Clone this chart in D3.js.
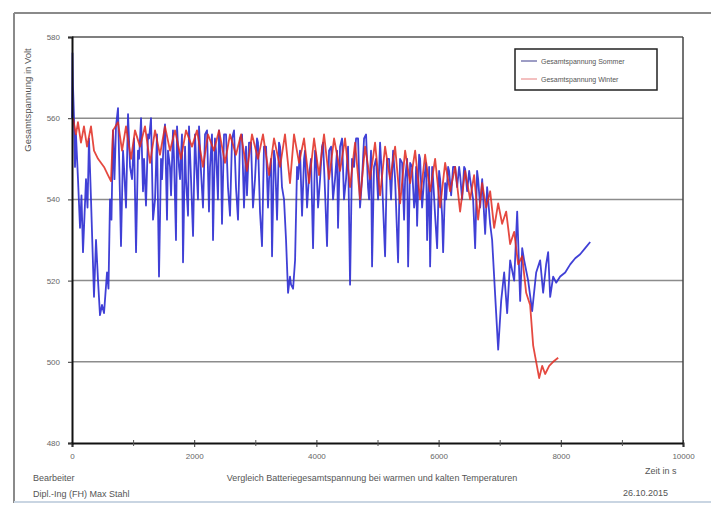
<!DOCTYPE html>
<html>
<head>
<meta charset="utf-8">
<script src="https://cdn.jsdelivr.net/npm/d3@7"></script>
<style>
  body { margin: 0; background: #fff; }
  svg { display: block; font-family: "Liberation Sans", Arial, sans-serif; }
</style>
</head>
<body>
<div id="container"></div>
<script>
// chart size
const width = 711;
const height = 505;

// tick values
const xTicks = [0, 2000, 4000, 6000, 8000, 10000];
const xMinorTicks = [1000, 3000, 5000, 7000, 9000];
const yTicks = [480, 500, 520, 540, 560, 580];
const gridValues = [500, 520, 540, 560];

// series names (legend)
const seriesNames = ["Gesamtspannung Sommer", "Gesamtspannung Winter"];

// Sommer: [Zeit in s, Spannung in V]
const sommerDaten = [
  [0, 560], [8, 576], [16, 568], [33, 560], [49, 548], [65, 556], [98, 545], [131, 533], [155, 541],
  [180, 527], [229, 545], [254, 538], [278, 555], [311, 540], [360, 516], [393, 530], [426, 520],
  [458, 511.5], [491, 514], [524, 512], [573, 522], [597, 518], [622, 540], [646, 535], [671, 557],
  [695, 545], [720, 558], [753, 562.5],
  [786, 540], [802, 528.5], [835, 552], [851, 548], [884, 538], [917, 561], [950, 548], [982, 545],
  [1015, 555], [1048, 527], [1080, 552], [1097, 550], [1130, 560], [1162, 542], [1179, 550],
  [1211, 538.5], [1244, 556], [1261, 555], [1293, 560],
  [1326, 535], [1359, 540], [1391, 556], [1424, 521], [1457, 550], [1473, 545], [1506, 556],
  [1522, 558.5], [1555, 535], [1571, 552], [1604, 548], [1621, 541], [1653, 557], [1670, 550],
  [1702, 530], [1719, 558], [1751, 548], [1768, 545], [1800, 556], [1817, 524.5], [1850, 553],
  [1866, 545], [1899, 536], [1915, 558], [1948, 545], [1981, 531], [2013, 556], [2030, 550],
  [2062, 540], [2079, 558], [2111, 547], [2144, 538], [2177, 556], [2210, 557], [2242, 537],
  [2259, 548], [2291, 556], [2308, 530], [2340, 555], [2357, 552], [2389, 540], [2406, 557],
  [2438, 550], [2455, 534], [2488, 556], [2521, 556], [2553, 543], [2586, 536], [2619, 555],
  [2652, 557], [2684, 543], [2717, 535], [2750, 555], [2783, 556], [2815, 538], [2848, 553],
  [2864, 541], [2897, 554], [2930, 554], [2962, 538], [2995, 545],
  [3028, 555], [3044, 554], [3077, 537], [3110, 528.5], [3142, 553], [3176, 553], [3208, 538],
  [3225, 545], [3257, 550], [3274, 526], [3306, 552], [3323, 550], [3356, 535], [3388, 554],
  [3405, 553], [3437, 543], [3470, 540], [3503, 530], [3536, 517], [3568, 521], [3585, 519],
  [3618, 518], [3651, 525], [3683, 548], [3700, 545], [3732, 552], [3765, 536], [3798, 550],
  [3814, 552], [3847, 538], [3880, 546], [3912, 550], [3945, 528], [3978, 552], [3994, 551],
  [4027, 538], [4060, 545], [4092, 553], [4109, 554], [4141, 542], [4174, 528.5], [4207, 552],
  [4240, 553], [4272, 540], [4305, 545], [4338, 552], [4354, 533], [4387, 553], [4420, 555],
  [4452, 540], [4485, 545], [4518, 553], [4551, 519], [4583, 550], [4616, 548], [4649, 555],
  [4682, 555], [4714, 538], [4747, 545], [4780, 555], [4813, 556], [4845, 543], [4862, 540],
  [4894, 552], [4911, 523.5], [4943, 548], [4976, 550],
  [5009, 540], [5042, 554], [5074, 545], [5124, 526], [5156, 550], [5189, 550], [5222, 540],
  [5255, 552], [5288, 545], [5337, 524.5], [5369, 550], [5403, 549], [5435, 535], [5452, 545],
  [5485, 550], [5501, 523.5], [5534, 549], [5566, 548], [5599, 538], [5616, 540], [5632, 548],
  [5648, 533.5], [5681, 551], [5697, 550], [5730, 538], [5763, 545], [5796, 549], [5812, 530],
  [5845, 548], [5861, 523.5], [5894, 548], [5910, 545], [5943, 536], [5976, 528], [6008, 547],
  [6025, 545], [6057, 536], [6074, 527], [6107, 544], [6123, 540], [6156, 548], [6172, 547],
  [6205, 541], [6237, 548], [6270, 548], [6303, 543], [6336, 548], [6352, 546], [6385, 540],
  [6418, 548], [6434, 547.5], [6467, 542], [6500, 547], [6516, 545], [6565, 540], [6598, 528],
  [6630, 547], [6647, 545], [6680, 538], [6713, 545], [6762, 531.5], [6794, 543], [6811, 540],
  [6843, 534], [6876, 530], [6942, 512], [6975, 503],
  [7024, 515], [7073, 522], [7122, 512], [7171, 525], [7237, 520], [7286, 537], [7335, 515],
  [7368, 528], [7400, 525], [7466, 520], [7531, 512.5], [7597, 522], [7662, 525], [7711, 517],
  [7760, 524], [7793, 527], [7826, 516], [7875, 521], [7924, 519.5], [7990, 521], [8072, 522],
  [8154, 524], [8236, 525.5], [8317, 526.5], [8399, 528], [8481, 529.5]
];

// Winter: [Zeit in s, Spannung in V]
const winterDaten = [
  [16, 560], [65, 556], [98, 559], [147, 554], [196, 558], [246, 553], [311, 558], [360, 552],
  [426, 550], [524, 548], [589, 546], [638, 544.5], [671, 557], [753, 559], [819, 552], [884, 558],
  [966, 550], [1031, 557], [1113, 553], [1195, 558], [1277, 549], [1359, 557], [1440, 551],
  [1522, 558], [1604, 552], [1686, 557], [1784, 550], [1866, 557], [1964, 553], [2046, 557],
  [2144, 548], [2226, 556], [2324, 552], [2406, 557], [2504, 549], [2586, 556], [2684, 551],
  [2766, 556], [2864, 547], [2946, 556], [3044, 550], [3126, 556], [3225, 546], [3306, 555],
  [3405, 548], [3486, 556], [3568, 544], [3634, 556], [3716, 549], [3798, 555], [3880, 544],
  [3962, 555], [4043, 546], [4125, 556], [4207, 545], [4289, 555], [4387, 547], [4469, 555],
  [4551, 543], [4633, 554], [4715, 540], [4797, 553], [4878, 545], [4960, 554], [5042, 541],
  [5124, 553], [5206, 545], [5288, 553], [5370, 539], [5452, 552], [5534, 544], [5616, 552],
  [5697, 540], [5779, 551], [5861, 542], [5943, 550], [6025, 538], [6107, 549], [6189, 542],
  [6271, 548], [6352, 537], [6434, 547], [6516, 540], [6581, 546], [6647, 535], [6713, 544],
  [6778, 538], [6844, 542], [6909, 533], [6975, 539], [7040, 534], [7106, 537], [7171, 529],
  [7237, 532], [7302, 524], [7368, 526], [7433, 517], [7498, 514], [7548, 504], [7597, 500],
  [7646, 496], [7695, 499], [7744, 497], [7810, 499], [7875, 500], [7957, 501]
];

const seriesColors = ["#2b2bd2", "#e0291f"];

const svg = d3.select("#container")
    .append("svg")
    .attr("width", width)
    .attr("height", height);

// outer frame
svg.append("line").attr("x1", 14).attr("x2", 711).attr("y1", 13).attr("y2", 13)
    .attr("stroke", "#8a8a8a").attr("stroke-width", 2);
svg.append("line").attr("x1", 14).attr("x2", 14).attr("y1", 13).attr("y2", 503)
    .attr("stroke", "#8a8a8a").attr("stroke-width", 2);
svg.append("line").attr("x1", 14).attr("x2", 711).attr("y1", 502).attr("y2", 502)
    .attr("stroke", "#c9d5e2").attr("stroke-width", 2);

// scales
const xScale = d3.scaleLinear().domain([0, 10000]).range([72, 683]);
const yScale = d3.scaleLinear().domain([480, 580]).range([443, 37]);

// grid lines
svg.selectAll("line.grid")
    .data(gridValues)
    .enter()
    .append("line")
    .attr("class", "grid")
    .attr("x1", xScale(0))
    .attr("x2", xScale(10000))
    .attr("y1", d => yScale(d))
    .attr("y2", d => yScale(d))
    .attr("stroke", "#8c8c8c")
    .attr("stroke-width", 1.5);

// plot frame top + right
svg.append("line").attr("x1", xScale(0)).attr("x2", xScale(10000))
    .attr("y1", yScale(580)).attr("y2", yScale(580))
    .attr("stroke", "#555").attr("stroke-width", 1.5);
svg.append("line").attr("x1", xScale(10000)).attr("x2", xScale(10000))
    .attr("y1", yScale(580)).attr("y2", yScale(480))
    .attr("stroke", "#444").attr("stroke-width", 1.5);

// series
const line = d3.line()
    .x(d => xScale(d[0]))
    .y(d => yScale(d[1]));

svg.append("path")
    .datum(sommerDaten)
    .attr("fill", "none")
    .attr("stroke", seriesColors[0])
    .attr("stroke-width", 1.8)
    .attr("stroke-opacity", 0.9)
    .attr("stroke-linejoin", "round")
    .attr("d", line);

svg.append("path")
    .datum(winterDaten)
    .attr("fill", "none")
    .attr("stroke", seriesColors[1])
    .attr("stroke-width", 1.8)
    .attr("stroke-opacity", 0.85)
    .attr("stroke-linejoin", "round")
    .attr("d", line);

// x axis
const xAxis = d3.axisBottom(xScale).tickValues(xTicks).tickSize(4).tickPadding(6)
    .tickFormat(d3.format("d"));
const gx = svg.append("g")
    .attr("transform", `translate(0, ${yScale(480)})`)
    .call(xAxis);
gx.select(".domain").attr("stroke", "#111").attr("stroke-width", 2);
gx.selectAll(".tick line").attr("stroke", "#333").attr("y1", -3);
gx.selectAll(".tick text").attr("fill", "#666").style("font-size", "8px");

svg.append("g")
    .attr("transform", `translate(0, ${yScale(480)})`)
    .call(d3.axisBottom(xScale).tickValues(xMinorTicks).tickSize(3).tickFormat(""))
    .call(g => g.select(".domain").remove())
    .selectAll(".tick line").attr("stroke", "#555").attr("y1", -3);

// y axis
const yAxis = d3.axisLeft(yScale).tickValues(yTicks).tickSize(4).tickPadding(8);
const gy = svg.append("g")
    .attr("transform", `translate(${xScale(0)}, 0)`)
    .call(yAxis);
gy.select(".domain").attr("stroke", "#111").attr("stroke-width", 2);
gy.selectAll(".tick line").attr("stroke", "#333");
gy.selectAll(".tick text").attr("fill", "#666").style("font-size", "8px");

// y axis title
svg.append("text")
    .attr("transform", `translate(31, 100) rotate(-90)`)
    .attr("text-anchor", "middle")
    .attr("fill", "#555")
    .style("font-size", "9.5px")
    .text("Gesamtspannung in Volt");

// legend
const legend = svg.append("g").attr("transform", "translate(515, 49)");
legend.append("rect")
    .attr("width", 142)
    .attr("height", 41)
    .attr("fill", "#fff")
    .attr("stroke", "#222")
    .attr("stroke-width", 1.5);
legend.selectAll("g.entry")
    .data(seriesNames)
    .enter()
    .append("g")
    .attr("class", "entry")
    .attr("transform", (d, i) => `translate(6, ${12 + i * 18})`)
    .each(function (d, i) {
        const g = d3.select(this);
        g.append("line").attr("x1", 0).attr("x2", 16).attr("y1", 0).attr("y2", 0)
            .attr("stroke", i === 0 ? "#3a3a8a" : "#e88080").attr("stroke-width", 1);
        g.append("text").attr("x", 20).attr("y", 3)
            .attr("fill", "#555").style("font-size", "7px").text(d);
    });

// footer texts
const footer = [
    { x: 33, y: 481, anchor: "start", text: "Bearbeiter" },
    { x: 33, y: 497, anchor: "start", text: "Dipl.-Ing (FH) Max Stahl" },
    { x: 372, y: 481, anchor: "middle", text: "Vergleich Batteriegesamtspannung bei warmen und kalten Temperaturen" },
    { x: 645, y: 474, anchor: "start", text: "Zeit in s" },
    { x: 623, y: 496, anchor: "start", text: "26.10.2015" }
];
svg.selectAll("text.footer")
    .data(footer)
    .enter()
    .append("text")
    .attr("class", "footer")
    .attr("x", d => d.x)
    .attr("y", d => d.y)
    .attr("text-anchor", d => d.anchor)
    .attr("fill", "#555")
    .style("font-size", "9px")
    .text(d => d.text);
</script>
</body>
</html>
